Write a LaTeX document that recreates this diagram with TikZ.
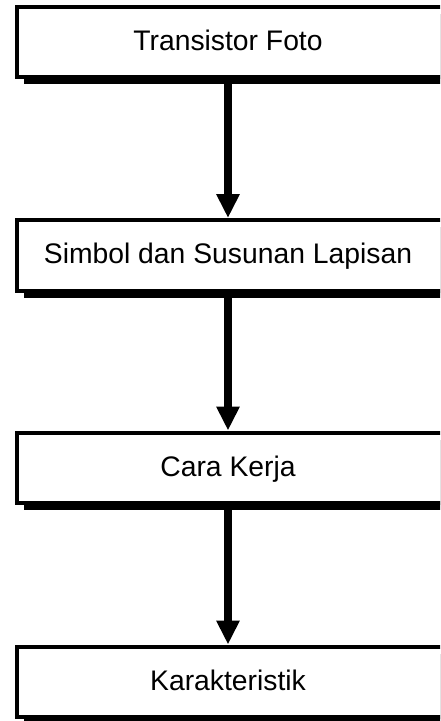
\documentclass[tikz,border=0pt]{standalone}
\usepackage{fontspec}
\setmainfont{Liberation Sans}
\usetikzlibrary{arrows.meta,shadows}

\tikzset{
  % framed panel; its right side runs off the page
  stepframe/.style={
    draw=black, line width=4pt, fill=white, anchor=west,
    minimum width=470pt, minimum height=70.5pt, inner sep=0pt,
    drop shadow={shadow xshift=7pt, shadow yshift=-7pt, fill=black, opacity=1}
  },
  steplabel/.style={
    inner sep=0pt, font=\fontsize{28.3}{34}\selectfont,
    text height=20pt, text depth=2.7pt
  },
  flowarrow/.style={
    line width=8pt, -{Triangle[length=24pt, width=22pt]}
  }
}

\begin{document}
\begin{tikzpicture}[x=1pt, y=-1pt]
  \useasboundingbox (0,0) rectangle (440,721);
  \clip (0,0) rectangle (440,721);

  % panels
  \node[stepframe] (f1) at (15,41.75)  {};
  \node[stepframe] (f2) at (15,255.25) {};
  \node[stepframe] (f3) at (15,467.75) {};
  \node[stepframe] (f4) at (15,681.75) {};

  % stage titles
  \node[steplabel] (b1) at (228,41.75)  {Transistor Foto};
  \node[steplabel] (b2) at (228,255.25) {Simbol dan Susunan Lapisan};
  \node[steplabel] (b3) at (228,467.75) {Cara Kerja};
  \node[steplabel] (b4) at (228,681.75) {Karakteristik};

  % connectors between consecutive stages
  \draw[flowarrow] (f1.south -| b1) -- (f2.north -| b2);
  \draw[flowarrow] (f2.south -| b2) -- (f3.north -| b3);
  \draw[flowarrow] (f3.south -| b3) -- (f4.north -| b4);
\end{tikzpicture}
\end{document}
